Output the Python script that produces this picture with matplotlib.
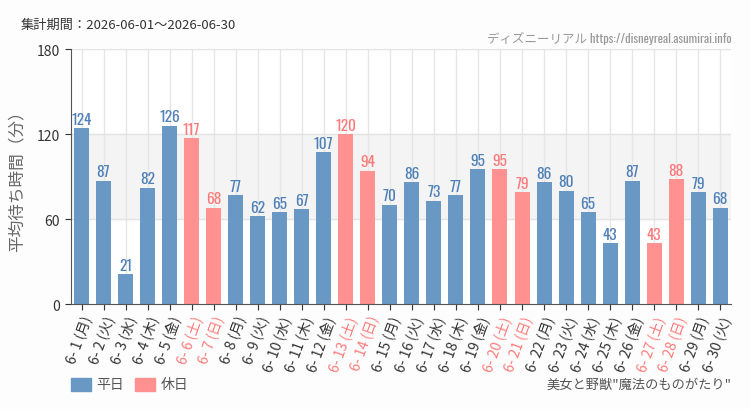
import matplotlib
matplotlib.use("Agg")
import matplotlib.pyplot as plt
from matplotlib.patches import Rectangle
from matplotlib import font_manager as fm

plt.rcParams['font.family'] = ['Noto Sans CJK JP', 'DejaVu Sans']

installed = set(f.name for f in fm.fontManager.ttflist)
narrow = 'DejaVu Sans'
for cand in ['Oswald', 'Roboto Condensed', 'Liberation Sans Narrow', 'Open Sans Condensed']:
    if cand in installed:
        narrow = cand
        break

days = list(range(1, 31))
weekdays = (['月', '火', '水', '木', '金', '土', '日'] * 5)[:30]
waits = [124, 87, 21, 82, 126, 117, 68, 77, 62, 65, 67, 107, 120, 94, 70,
         86, 73, 77, 95, 95, 79, 86, 80, 65, 43, 87, 43, 88, 79, 68]
holidays = [6, 7, 13, 14, 20, 21, 27, 28]

labels = ['6- %d (%s)' % (d, w) for d, w in zip(days, weekdays)]

blue = '#6a98c4'
pink = '#ff9191'
blue_txt = '#4f80b8'
pink_txt = '#ff7a7a'

fig = plt.figure(figsize=(7.5, 4.1), dpi=100, facecolor='#fcfdfc')
ax = fig.add_axes([0.094, 0.256, 0.881, 0.622])
ax.set_facecolor('white')

x = list(range(len(days)))
cols = [pink if d in holidays else blue for d in days]
ax.axhspan(60, 120, color='#f4f4f4', zorder=0)
for xi in x:
    ax.axvline(xi, color='#e6e6e6', lw=1, zorder=0.5)
for yv in [60, 120, 180]:
    ax.axhline(yv, color='#e3e3e3', lw=1, zorder=0.5)
ax.bar(x, waits, width=0.68, color=cols, zorder=2)

for xi, v, d in zip(x, waits, days):
    c = pink_txt if d in holidays else blue_txt
    ax.text(xi, v + 1.0, str(v), ha='center', va='bottom', fontsize=11,
            color=c, family=[narrow, 'DejaVu Sans'], zorder=3)

ax.set_xlim(-0.5, 29.5)
ax.set_ylim(0, 180)
ax.set_yticks([0, 60, 120, 180])
ax.set_xticks(x)
ax.set_xticklabels(labels, rotation=70, ha='right', rotation_mode='anchor',
                   fontsize=10)
for lab, d in zip(ax.get_xticklabels(), days):
    lab.set_color(pink_txt if d in holidays else '#333333')
ax.tick_params(axis='y', labelsize=10, colors='#333333', length=4)
ax.tick_params(axis='x', length=4, color='#333333', pad=3)
for s in ['top', 'right']:
    ax.spines[s].set_visible(False)
ax.spines['left'].set_color('#555555')
ax.spines['bottom'].set_color('#555555')
ax.set_ylabel('平均待ち時間（分）', fontsize=12, color='#666666', labelpad=8)

fig.text(0.027, 0.937, '集計期間：2026-06-01〜2026-06-30', fontsize=9.5,
         color='#333333', va='center')
fig.text(0.975, 0.905, 'ディズニーリアル https://disneyreal.asumirai.info',
         fontsize=9, color='#999999', ha='right', va='center',
         family=[narrow, 'Noto Sans CJK JP', 'DejaVu Sans'])

fig.patches.append(Rectangle((0.094, 0.045), 0.027, 0.03, color=blue,
                             transform=fig.transFigure, figure=fig))
fig.text(0.128, 0.06, '平日', fontsize=10, color='#555555', va='center')
fig.patches.append(Rectangle((0.18, 0.045), 0.027, 0.03, color=pink,
                             transform=fig.transFigure, figure=fig))
fig.text(0.214, 0.06, '休日', fontsize=10, color='#555555', va='center')
fig.text(0.975, 0.06, '美女と野獣"魔法のものがたり"', fontsize=9.5,
         color='#555555', ha='right', va='center')

fig.savefig('out.png', dpi=100, facecolor=fig.get_facecolor())
